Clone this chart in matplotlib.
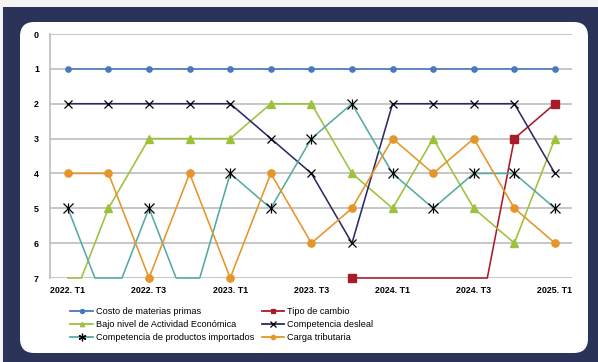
import numpy as np
import matplotlib.pyplot as plt
from matplotlib.patches import FancyBboxPatch, Rectangle
from matplotlib.lines import Line2D

nan = np.nan

#%% datos
trimestres = ['2022. T1', '2022. T2', '2022. T3', '2022. T4', '2023. T1', '2023. T2', '2023. T3',
              '2023. T4', '2024. T1', '2024. T2', '2024. T3', '2024. T4', '2025. T1']
costo_materias = [1, 1, 1, 1, 1, 1, 1, 1, 1, 1, 1, 1, 1]
tipo_cambio = [nan, nan, nan, nan, nan, nan, nan, 7, 8, 9, 9, 3, 2]
bajo_nivel = [8, 5, 3, 3, 3, 2, 2, 4, 5, 3, 5, 6, 3]
comp_desleal = [2, 2, 2, 2, 2, 3, 4, 6, 2, 2, 2, 2, 4]
comp_importados = [5, 8, 5, 8, 4, 5, 3, 2, 4, 5, 4, 4, 5]
carga_tributaria = [4, 4, 7, 4, 7, 4, 6, 5, 3, 4, 3, 5, 6]

AZUL = '#4a78c0'
ROJO = '#a81c2a'
VERDE = '#9dc23a'
NAVY = '#2b2b6a'
TEAL = '#55aaa5'
NARANJA = '#e6952a'
FONDO = '#2b3358'

YMAX = 7


def recortar(x, y, tope=YMAX):
    """Lleva al borde los tramos que pasan del maximo del eje (como Excel)."""
    xs, ys = [], []
    for i in range(len(x)):
        if i > 0 and not (np.isnan(y[i - 1]) or np.isnan(y[i])):
            y0, y1 = y[i - 1], y[i]
            if (y0 - tope) * (y1 - tope) < 0:
                t = (tope - y0) / (y1 - y0)
                xs.append(x[i - 1] + t * (x[i] - x[i - 1]))
                ys.append(tope)
        xs.append(x[i])
        ys.append(min(y[i], tope) if not np.isnan(y[i]) else nan)
    return xs, ys


#%% figura
fig = plt.figure(figsize=(5.98, 3.62), dpi=100)
fig.patch.set_facecolor('#f4f4f6')
W, H = 598, 362

fig.patches.append(Rectangle((3 / W, 0), 1, 1 - 7 / H, transform=fig.transFigure,
                             facecolor=FONDO, edgecolor='none', zorder=-2))
fig.patches.append(FancyBboxPatch((20 / W, 9 / H), 568 / W, 331 / H,
                                  boxstyle='round,pad=0,rounding_size=0.024',
                                  transform=fig.transFigure, facecolor='white',
                                  edgecolor='none', zorder=-1,
                                  mutation_aspect=W / H))

ax = fig.add_axes([50 / W, 1 - 278 / H, 522 / W, 244 / H])
ax.set_facecolor('none')

x = np.arange(len(trimestres))

series = [
    (costo_materias, AZUL, 'o', 3.8, AZUL, 'Costo de materias primas'),
    (tipo_cambio, ROJO, 's', 6.3, ROJO, 'Tipo de cambio'),
    (bajo_nivel, VERDE, '^', 6.3, VERDE, 'Bajo nivel de Actividad Económica'),
    (comp_desleal, NAVY, 'x', 6, 'black', 'Competencia desleal'),
    (comp_importados, TEAL, '*', 6.5, 'black', 'Competencia de productos importados'),
    (carga_tributaria, NARANJA, 'o', 5.2, NARANJA, 'Carga tributaria'),
]

for vals, color, mk, ms, mcol, nombre in series:
    vals = np.array(vals, dtype=float)
    xs, ys = recortar(x, vals)
    ax.plot(xs, ys, color=color, lw=1.15, clip_on=False, zorder=3)
    vis = vals <= YMAX
    if mk == '*':
        ax.plot(x[vis], vals[vis], ls='none', marker='x', ms=ms, mec='black', mew=0.9,
                clip_on=False, zorder=4)
        ax.plot(x[vis], vals[vis], ls='none', marker='|', ms=ms + 1, mec='black', mew=0.9,
                clip_on=False, zorder=4)
    elif mk == 'x':
        ax.plot(x[vis], vals[vis], ls='none', marker='x', ms=ms, mec='black', mew=0.9,
                clip_on=False, zorder=4)
    else:
        ax.plot(x[vis], vals[vis], ls='none', marker=mk, ms=ms, mfc=mcol, mec=mcol,
                clip_on=False, zorder=4)

ax.set_ylim(YMAX, 0)
ax.set_xlim(-0.44, 12.42)
ax.set_yticks(range(0, 8))
ax.set_xticks(x[::2])
ax.set_xticklabels(trimestres[::2])
ax.grid(axis='y', color='#c2c2c2', lw=1.3)
ax.set_axisbelow(True)
for s in ['top', 'right', 'bottom']:
    ax.spines[s].set_visible(False)
ax.spines['left'].set_color('#c2c2c2')
ax.spines['left'].set_linewidth(1.3)
ax.tick_params(length=0)
ax.tick_params(axis='y', pad=8)
ax.tick_params(axis='x', pad=6)
for lab in ax.get_xticklabels() + ax.get_yticklabels():
    lab.set_fontfamily(['Liberation Sans', 'DejaVu Sans'])
    lab.set_fontweight('bold')
    lab.set_fontsize(6.4)

#%% leyenda
def handle(color, mk, mcol, ms):
    return Line2D([], [], color=color, lw=1.3, marker=mk, ms=ms, mfc=mcol, mec=mcol, mew=0.9)

hs = [handle(AZUL, 'o', AZUL, 3), handle(ROJO, 's', ROJO, 3.2),
      handle(VERDE, '^', VERDE, 3.2), handle(NAVY, 'x', 'black', 4.5),
      handle(TEAL, (6, 2, 0), 'black', 5.5), handle(NARANJA, 'o', NARANJA, 3.2)]
nombres = [s[5] for s in series]
orden = [0, 2, 4, 1, 3, 5]
leg = fig.legend([hs[i] for i in orden], [nombres[i] for i in orden],
                 loc='upper left', bbox_to_anchor=(62 / W, 1 - 299 / H), ncol=2,
                 frameon=False, handlelength=2.5, handletextpad=0.3,
                 columnspacing=0.8, labelspacing=0.42,
                 prop={'family': ['Liberation Sans', 'DejaVu Sans'], 'size': 6.6})

fig.savefig('out.png', dpi=100, facecolor=fig.get_facecolor())
